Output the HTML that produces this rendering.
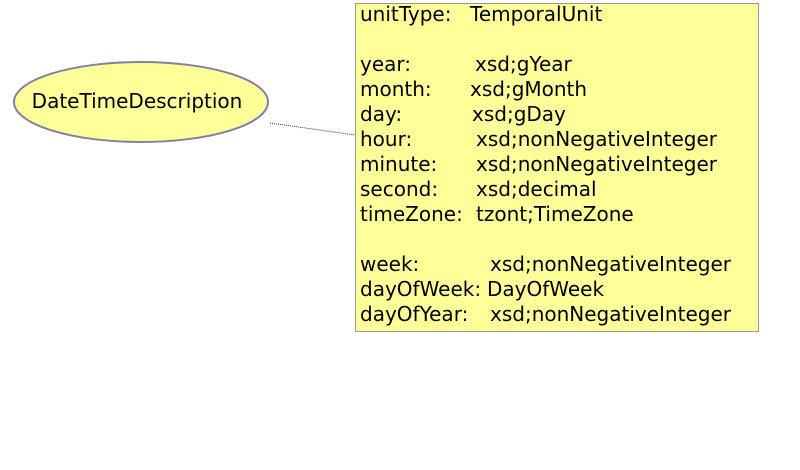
<!DOCTYPE html>
<html><head><style>
body{margin:0;width:800px;height:470px;background:#fff;position:relative;overflow:hidden;font-family:"DejaVu Sans","Liberation Sans",sans-serif;}
.box{position:absolute;left:355px;top:3px;width:402px;height:327px;background:#ffff99;border:1px solid #999;}
.t{position:absolute;font-size:20px;color:#000;white-space:pre;line-height:22px;}
</style></head><body>
<svg width="800" height="470" style="position:absolute;left:0;top:0">
<ellipse cx="141" cy="102" rx="127" ry="40" fill="#ffff99" stroke="#8080a0" stroke-width="2"/>
<line x1="270" y1="123" x2="355" y2="135" stroke="#333" stroke-width="1" stroke-dasharray="1,1"/>
<text x="137" y="108" font-size="20" text-anchor="middle" font-family="DejaVu Sans, sans-serif">DateTimeDescription</text>
</svg>
<div class="box"></div>
<div class="t" style="left:360px;top:3px">unitType:</div><div class="t" style="left:470px;top:3px">TemporalUnit</div>
<div class="t" style="left:360px;top:53px">year:</div><div class="t" style="left:475px;top:53px">xsd;gYear</div>
<div class="t" style="left:360px;top:78px">month:</div><div class="t" style="left:470px;top:78px">xsd;gMonth</div>
<div class="t" style="left:360px;top:103px">day:</div><div class="t" style="left:472px;top:103px">xsd;gDay</div>
<div class="t" style="left:360px;top:128px">hour:</div><div class="t" style="left:476px;top:128px">xsd;nonNegativeInteger</div>
<div class="t" style="left:360px;top:153px">minute:</div><div class="t" style="left:476px;top:153px">xsd;nonNegativeInteger</div>
<div class="t" style="left:360px;top:178px">second:</div><div class="t" style="left:476px;top:178px">xsd;decimal</div>
<div class="t" style="left:360px;top:203px">timeZone:</div><div class="t" style="left:476px;top:203px">tzont;TimeZone</div>
<div class="t" style="left:360px;top:253px">week:</div><div class="t" style="left:490px;top:253px">xsd;nonNegativeInteger</div>
<div class="t" style="left:360px;top:278px">dayOfWeek:</div><div class="t" style="left:487px;top:278px">DayOfWeek</div>
<div class="t" style="left:360px;top:303px">dayOfYear:</div><div class="t" style="left:490px;top:303px">xsd;nonNegativeInteger</div>
</body></html>
